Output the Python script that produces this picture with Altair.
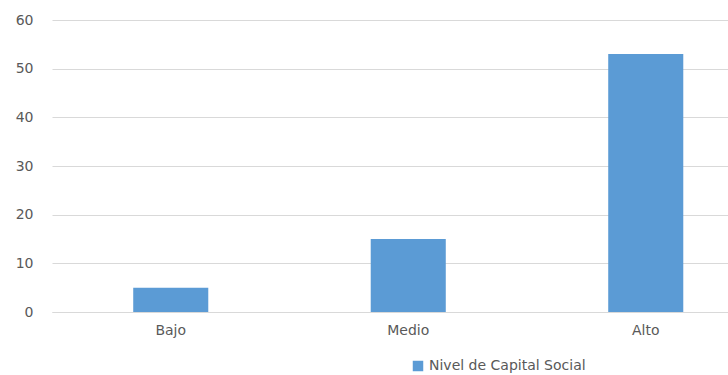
import altair as alt
import pandas as pd

categorias = ["Bajo", "Medio", "Alto"]
valores = [5, 15, 53]
serie = "Nivel de Capital Social"

df = pd.DataFrame({"cat": categorias, "val": valores, "serie": [serie] * len(categorias)})

FONT = "DejaVu Sans"
GRAY = "#595959"

chart = alt.Chart(df).mark_bar(color="#5b9bd5").encode(
    x=alt.X("cat:N", sort=categorias, title=None,
            scale=alt.Scale(range=[0, 712.5], paddingInner=0.684, paddingOuter=0.342),
            axis=alt.Axis(labelAngle=0, ticks=False, domain=True, domainColor="#d9d9d9",
                          labelPadding=11, labelFontSize=14, labelColor=GRAY, labelFont=FONT,
                          grid=False)),
    y=alt.Y("val:Q", title=None,
            scale=alt.Scale(domain=[0, 60]),
            axis=alt.Axis(values=[0, 10, 20, 30, 40, 50, 60], domain=False, ticks=False,
                          labelPadding=19, labelFontSize=14, labelColor=GRAY, labelFont=FONT,
                          gridColor="#d9d9d9", gridWidth=1)),
    color=alt.Color("serie:N", scale=alt.Scale(range=["#5b9bd5"]),
                    legend=alt.Legend(title=None, orient="none", legendX=359, legendY=339,
                                      symbolType="square", symbolSize=110,
                                      labelFontSize=14, labelColor=GRAY, labelFont=FONT,
                                      padding=0, symbolStrokeWidth=0))
).properties(
    width=676, height=292,
    padding={"left": 52, "top": 20, "right": 0, "bottom": 63},
    autosize=alt.AutoSizeParams(type="none")
).configure_view(stroke=None)

chart.save("out.html", embed_options={"renderer": "svg", "actions": False})
